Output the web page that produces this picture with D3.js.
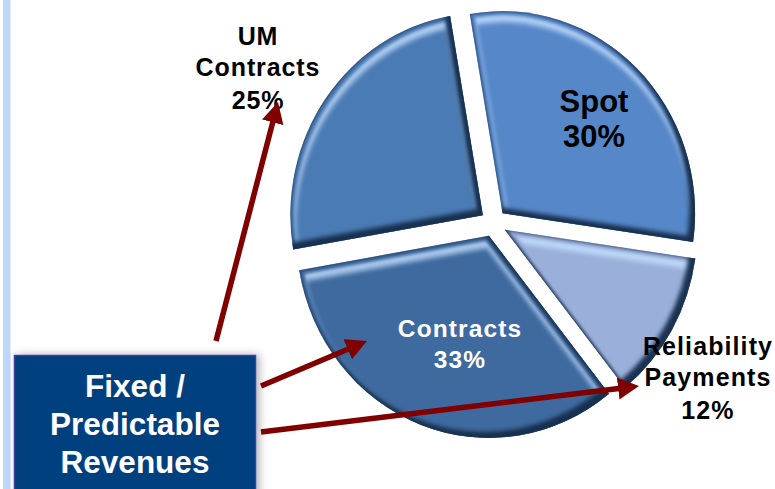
<!DOCTYPE html>
<html><head><meta charset="utf-8">
<script src="https://cdn.jsdelivr.net/npm/d3@7/dist/d3.min.js"></script>
<style>html,body{margin:0;padding:0;background:#fff;overflow:hidden}svg{display:block}
text{font-family:"Liberation Sans",Arial,sans-serif;font-weight:700;text-anchor:middle}</style>
</head><body><div id="c"></div>
<script>
const categories=["Spot","Reliability Payments","Contracts","UM Contracts"];
const shares=[30,12,33,25];
const sliceColors=["#5687c8","#9aafd9","#3f6a9f","#4b7bb4"];
const W=775,H=489,cx=493.5,cy=223,R=192.5,yScale=1.05,explode=13;
const start=-9.8*Math.PI/180;
const svg=d3.select("#c").append("svg").attr("width",W).attr("height",H);
const defs=svg.append("defs");
const f=defs.append("filter").attr("id","bevel").attr("x","-5%").attr("y","-5%").attr("width","110%").attr("height","110%").attr("color-interpolation-filters","sRGB");
const fe=(n,a)=>{const e=f.append(n);Object.entries(a).forEach(([k,v])=>e.attr(k,v));return e};
// outer rim: thin dark line along every edge
fe("feMorphology",{in:"SourceAlpha",operator:"erode",radius:1,result:"e1"});
fe("feGaussianBlur",{in:"e1",stdDeviation:1.3,result:"e1b"});
fe("feFlood",{"flood-color":"#1c3557","flood-opacity":.65,result:"rimC"});
fe("feComposite",{in:"rimC",in2:"e1b",operator:"out",result:"rim0"});
fe("feComposite",{in:"rim0",in2:"SourceAlpha",operator:"in",result:"rim"});
// shade: band on edges facing lower right
fe("feMorphology",{in:"SourceAlpha",operator:"erode",radius:1,result:"e2"});
fe("feOffset",{in:"e2",dx:-5,dy:-5,result:"e2o"});
fe("feGaussianBlur",{in:"e2o",stdDeviation:2.2,result:"e2b"});
fe("feFlood",{"flood-color":"#142c4a","flood-opacity":.95,result:"shC"});
fe("feComposite",{in:"shC",in2:"e2b",operator:"out",result:"sh0"});
fe("feComposite",{in:"sh0",in2:"SourceAlpha",operator:"in",result:"shade"});
// highlight: lighter band just inside edges facing up
fe("feMorphology",{in:"SourceAlpha",operator:"erode",radius:4,result:"e3"});
fe("feGaussianBlur",{in:"e3",stdDeviation:1.5,result:"e3b"});
fe("feOffset",{in:"e3",dx:1,dy:7,result:"e3o"});
fe("feGaussianBlur",{in:"e3o",stdDeviation:2.4,result:"e3ob"});
fe("feFlood",{"flood-color":"#c4e0ff","flood-opacity":.8,result:"hiC"});
fe("feComposite",{in:"hiC",in2:"e3b",operator:"in",result:"hi0"});
fe("feComposite",{in:"hi0",in2:"e3ob",operator:"out",result:"hi"});
const m=f.append("feMerge");["SourceGraphic","hi","shade","rim"].forEach(n=>m.append("feMergeNode").attr("in",n));

const sh=defs.append("filter").attr("id","shadow").attr("x","-10%").attr("y","-10%").attr("width","125%").attr("height","125%");
sh.append("feDropShadow").attr("dx",3).attr("dy",0).attr("stdDeviation",4).attr("flood-color","#000").attr("flood-opacity",.3);
const mk=defs.append("marker").attr("id","head").attr("markerUnits","userSpaceOnUse").attr("markerWidth",24).attr("markerHeight",24).attr("refX",11).attr("refY",11).attr("orient","auto");
mk.append("path").attr("d","M0,0L21,11L0,22Z").attr("fill","#800000");

// side bar
svg.append("rect").attr("x",3).attr("y",0).attr("width",7.5).attr("height",H).attr("fill","#bfd7f9");

// pie
const pie=d3.pie().sort(null).startAngle(start).endAngle(start+2*Math.PI);
const arc=d3.arc().innerRadius(0).outerRadius(R);
const arcs=pie(shares);
const g=svg.append("g").attr("transform",`translate(${cx},${cy}) scale(1,${yScale})`);
g.selectAll("path").data(arcs).join("path")
 .attr("d",arc).attr("fill",(d,i)=>sliceColors[i]).attr("filter","url(#bevel)")
 .attr("transform",d=>{const a=(d.startAngle+d.endAngle)/2;return `translate(${explode*Math.sin(a)},${-explode*Math.cos(a)})`});

// labels
function label(x,lines,size,fill,spacing){
  const t=svg.append("text").attr("fill",fill).attr("font-size",size).attr("letter-spacing",spacing||0);
  lines.forEach(l=>t.append("tspan").attr("x",x).attr("y",l[1]).text(l[0]));
}
label(258,[["UM",45],["Contracts",76],[shares[3]+"%",109]],25,"#000",.9);
label(594,[["Spot",112],[shares[0]+"%",147]],31,"#000");
label(460,[["Contracts",337],[shares[2]+"%",368]],24.5,"#fff",1.1);
label(708,[["Reliability",355],["Payments",386],[shares[1]+"%",419]],25,"#000",1.1);

// box
svg.append("rect").attr("x",14.5).attr("y",355.5).attr("width",241).attr("height",150).attr("fill","#003f7f").attr("stroke","#3c3f9e").attr("stroke-width",1.5).attr("filter","url(#shadow)");
label(135,[["Fixed /",397],["Predictable",435],["Revenues",473]],31.5,"#fff");

// arrows: shaft stops 10px short of the tip so the head stays pointed
const arrows=[[216,341,278,102],[261,386,367,341],[261,432,639,386]];
const shaftEnd=d=>{const dx=d[2]-d[0],dy=d[3]-d[1],l=Math.hypot(dx,dy);return [d[2]-dx/l*10,d[3]-dy/l*10]};
svg.selectAll("line.a").data(arrows).join("line").attr("class","a")
 .attr("x1",d=>d[0]).attr("y1",d=>d[1]).attr("x2",d=>shaftEnd(d)[0]).attr("y2",d=>shaftEnd(d)[1])
 .attr("stroke","#800000").attr("stroke-width",5.5).attr("marker-end","url(#head)");
</script></body></html>
